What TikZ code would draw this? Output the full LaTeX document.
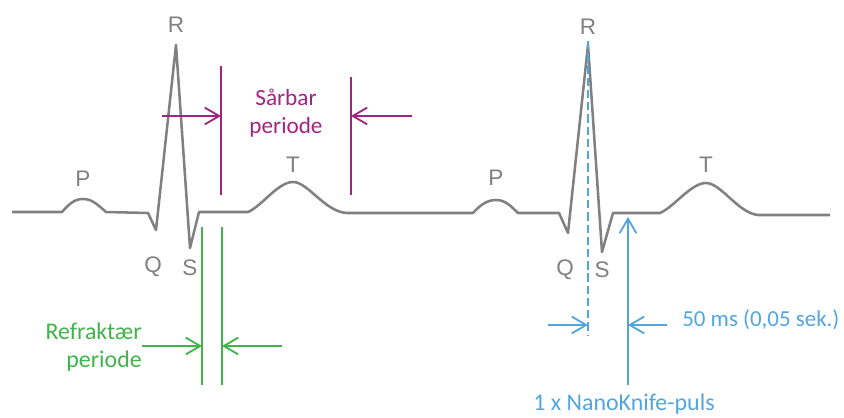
\documentclass[tikz,border=0pt]{standalone}
\usepackage{fontspec}
\setmainfont{Carlito}
\newfontfamily\wavefont{Liberation Sans}
\usepackage{xcolor}
\usepackage{tikz}
\usetikzlibrary{arrows.meta}

\definecolor{ecggray}{RGB}{128,128,128}
\definecolor{vulnmag}{RGB}{163,35,130}
\definecolor{refgreen}{RGB}{62,180,74}
\definecolor{pulseblue}{RGB}{82,165,222}

\begin{document}
\begin{tikzpicture}[
  x=0.025cm, y=-0.025cm,
  ecg/.style={draw=ecggray, line width=1.8pt, line join=round},
  wave/.style={text=ecggray, font=\wavefont\fontsize{16}{18}\selectfont, inner sep=0pt},
  lbl/.style={font=\fontsize{17}{19.5}\selectfont, inner sep=0pt},
  limit/.style={line width=1.3pt},
  arrow/.style={-{Straight Barb[length=3.6mm, width=4.2mm]}, line width=1.3pt}
]
\useasboundingbox (0,0) rectangle (844,418);

% ECG trace, two beats
\draw[ecg] (12,212) -- (62,212)
  .. controls (70,203) and (75,199) .. (83,199)
  .. controls (91,199) and (96,203) .. (106,212)
  -- (148,213) -- (156,230) -- (176,45) -- (190,248) -- (199,212) -- (248,212)
  .. controls (262,206) and (278,182) .. (293,182)
  .. controls (308,182) and (325,212) .. (347,213)
  -- (473,213)
  .. controls (481,204) and (488,200) .. (496,200)
  .. controls (504,200) and (509,204) .. (518,213)
  -- (559,213) -- (568,233) -- (588,45) -- (602,252) -- (613,213) -- (660,213)
  .. controls (674,207) and (691,183) .. (706,183)
  .. controls (721,183) and (738,213) .. (758,215)
  -- (830,215);

\node[wave] (r1) at (176,25) {R};
\node[wave] (p1) at (83,179) {P};
\node[wave] (t1) at (293,165) {T};
\node[wave] (q1) at (153,267) {Q};
\node[wave] (s1) at (190,268) {S};

\node[wave] (r2) at (588,27) {R};
\node[wave] (p2) at (496,178) {P};
\node[wave] (t2) at (706,165) {T};
\node[wave] (q2) at (565,270) {Q};
\node[wave] (s2) at (602,270) {S};

% vulnerable period
\coordinate (vultop) at (221,66);
\coordinate (vulbot) at (221,195);
\coordinate (vrtop) at (351,77);
\coordinate (vrbot) at (351,195);
\coordinate (vulin) at (162,116);
\coordinate (vulhit) at (221,116);
\coordinate (vrin) at (412,116);
\coordinate (vrhit) at (351,116);
\draw[limit, vulnmag] (vultop) -- (vulbot);
\draw[limit, vulnmag] (vrtop) -- (vrbot);
\draw[arrow, vulnmag] (vulin) -- (vulhit);
\draw[arrow, vulnmag] (vrin) -- (vrhit);
\node[lbl, text=vulnmag, align=center, font=\fontsize{16.5}{19.5}\selectfont] (vuln) at (286,113) {Sårbar\\periode};

% refractory period
\coordinate (rltop) at (202,227);
\coordinate (rlbot) at (202,385);
\coordinate (rrtop) at (222,227);
\coordinate (rrbot) at (222,385);
\coordinate (rlhit) at (202,346);
\coordinate (rrin) at (282,346);
\coordinate (rrhit) at (222,346);
\draw[limit, refgreen] (rltop) -- (rlbot);
\draw[limit, refgreen] (rrtop) -- (rrbot);
\node[lbl, text=refgreen, align=right, anchor=east] (refr) at (142,347) {Refraktær\\periode};
\draw[arrow, refgreen] (refr.east |- rlhit) -- (rlhit);
\draw[arrow, refgreen] (rrin) -- (rrhit);

% NanoKnife pulse
\coordinate (rpeak) at (588,41);
\coordinate (rfoot) at (588,335);
\coordinate (pbot) at (628,385);
\coordinate (ptip) at (628,217);
\coordinate (msin) at (548,325);
\coordinate (mshit) at (588,325);
\coordinate (msout) at (667,325);
\coordinate (msend) at (628,325);
\draw[limit, pulseblue, dash pattern=on 5.9pt off 2.8pt] (rpeak) -- (rfoot);
\draw[arrow, pulseblue] (pbot) -- (ptip);
\draw[arrow, pulseblue] (msin) -- (mshit);
\draw[arrow, pulseblue] (msout) -- (msend);
\node[lbl, text=pulseblue, anchor=base west, font=\fontsize{16.3}{19.5}\selectfont] (ms) at (682,327) {50 ms (0,05 sek.)};
\node[lbl, text=pulseblue, anchor=base] (knife) at (624,411) {1 x NanoKnife-puls};
\end{tikzpicture}
\end{document}
